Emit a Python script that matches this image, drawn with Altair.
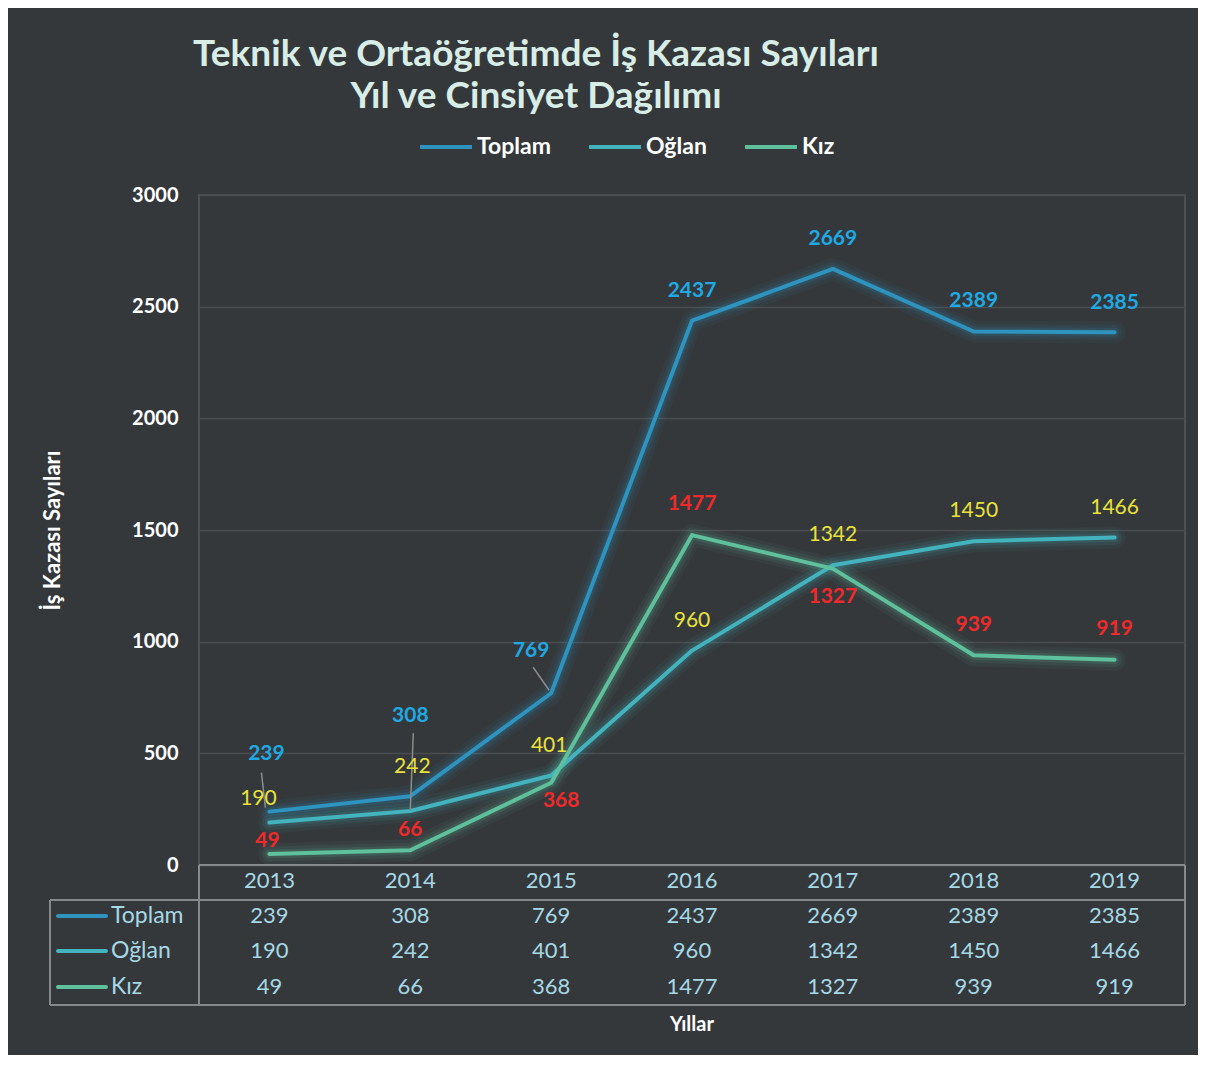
import altair as alt
import pandas as pd

# ---------------- data ----------------
years = [2013, 2014, 2015, 2016, 2017, 2018, 2019]
toplam = [239, 308, 769, 2437, 2669, 2389, 2385]
oglan = [190, 242, 401, 960, 1342, 1450, 1466]
kiz = [49, 66, 368, 1477, 1327, 939, 919]
series_names = ["Toplam", "Oğlan", "Kız"]
series_values = [toplam, oglan, kiz]
y_ticks = [0, 500, 1000, 1500, 2000, 2500, 3000]

# ---------------- styling / layout ----------------
FONT = "Lato"
BG = "#35383b"
line_colors = ["#2e93bf", "#43b4be", "#5fc09e"]
label_colors = ["#1fa9e3", "#e8e23a", "#f02a2a"]
label_weights = ["bold", "normal", "bold"]
table_color = "#a6d8e6"
border_color = "#86898b"
W, H = 986, 670

# pixel offsets of the value labels relative to their points
label_dx = [[-3, 0, -20, 0, 0, 0, 0], [-11, 2, -2, 0, 0, 0, 0], [-2, 0, 10, 0, 0, 0, 0]]
label_dy = [[-58, -80, -42, -30, -30, -30, -29],
            [-24, -44, -29, -30, -30, -30, -30],
            [-13, -20, 18, -31, 28, -30, -31]]
# leader lines: (series index, year index, xOff, yOff, x2Off, y2Off)
leaders = [(0, 0, -8, -39, -4, -4), (0, 1, 3, -63, 0, 14), (0, 2, -18, -26, -2, -3)]
row_y = [721, 756, 792]
header_y = 686

rows = []
for name, vals in zip(series_names, series_values):
    for yr, v in zip(years, vals):
        rows.append({"year": yr, "series": name, "value": v})
df = pd.DataFrame(rows)

x_enc = alt.X("year:O", scale=alt.Scale(type="point", padding=0.5), axis=None)
y_enc = alt.Y("value:Q", scale=alt.Scale(domain=[0, 3000], nice=False),
              axis=alt.Axis(values=y_ticks, format="d", grid=True, gridColor="#4a4d50", gridWidth=1.5,
                            ticks=False, domain=False, labelFont=FONT, labelFontSize=20,
                            labelFontWeight="bold", labelColor="#ffffff", labelPadding=21,
                            title="İş Kazası Sayıları", titleFont=FONT, titleFontSize=22,
                            titleFontWeight="bold", titleColor="#ffffff", titlePadding=67))
color_scale = alt.Scale(domain=series_names, range=line_colors)
legend = alt.Legend(orient="none", legendX=219, legendY=-76, direction="horizontal",
                    title=None, symbolType="stroke", symbolStrokeWidth=4,
                    symbolSize=2700, symbolOpacity=1, labelFont=FONT,
                    labelFontSize=23, labelFontWeight="bold", labelColor="#ffffff",
                    columnPadding=30, labelOffset=3)
color_enc = alt.Color("series:N", scale=color_scale, sort=series_names, legend=legend)

base = alt.Chart(df)
layers = []
# glow
for w, op in [(22, 0.06), (15, 0.09), (9, 0.14)]:
    layers.append(base.mark_line(strokeWidth=w, opacity=op, strokeCap="round", strokeJoin="round").encode(
        x=x_enc, y=y_enc, color=color_enc))
# main lines
layers.append(base.mark_line(strokeWidth=4, strokeCap="round", strokeJoin="round").encode(
    x=x_enc, y=y_enc, color=color_enc))

# leader lines
for si, yi, xo, yo, x2o, y2o in leaders:
    d = pd.DataFrame([{"year": years[yi], "value": series_values[si][yi]}])
    layers.append(alt.Chart(d).mark_rule(color="#8c8c8c", strokeWidth=1.5, xOffset=xo, yOffset=yo,
                                         x2Offset=x2o, y2Offset=y2o).encode(
        x=x_enc, y=y_enc, x2="year:O", y2="value:Q"))

# value labels
for si, name in enumerate(series_names):
    for yi, yr in enumerate(years):
        d = pd.DataFrame([{"year": yr, "value": series_values[si][yi]}])
        layers.append(alt.Chart(d).mark_text(font=FONT, fontSize=21, fontWeight=label_weights[si],
                                             color=label_colors[si], dx=label_dx[si][yi],
                                             dy=label_dy[si][yi], baseline="middle").encode(
            x=x_enc, y=y_enc, text="value:Q"))

# ---- data table below the plot ----
ydf = pd.DataFrame({"year": years})
layers.append(alt.Chart(ydf).mark_text(font=FONT, fontSize=22, color=table_color, baseline="middle").encode(
    x=x_enc, y=alt.value(header_y), text="year:O"))
for si, name in enumerate(series_names):
    tdf = pd.DataFrame({"year": years, "value": series_values[si]})
    layers.append(alt.Chart(tdf).mark_text(font=FONT, fontSize=22, color=table_color, baseline="middle").encode(
        x=x_enc, y=alt.value(row_y[si]), text="value:Q"))
    ldf = pd.DataFrame({"series": [name]})
    layers.append(alt.Chart(ldf).mark_text(font=FONT, fontSize=23, color=table_color, align="left",
                                           baseline="middle").encode(
        x=alt.value(-88), y=alt.value(row_y[si]), text="series:N"))
    layers.append(alt.Chart(ldf).mark_rule(strokeWidth=4, strokeCap="round", color=line_colors[si]).encode(
        x=alt.value(-141), x2=alt.value(-93), y=alt.value(row_y[si])))

# table borders
borders = [
    (0, W, 670, 670), (-149, W, 705, 705), (-149, W, 810, 810),
    (0, 0, 670, 810), (-149, -149, 705, 810), (W, W, 670, 810),
]
for x1, x2, y1, y2 in borders:
    layers.append(alt.Chart(ydf.head(1)).mark_rule(color=border_color, strokeWidth=2).encode(
        x=alt.value(x1), x2=alt.value(x2), y=alt.value(y1), y2=alt.value(y2)))

# axis title "Yıllar"
layers.append(alt.Chart(ydf.head(1)).mark_text(font=FONT, fontSize=20, fontWeight="bold", color="#ffffff",
                                               baseline="middle").encode(
    x=alt.value(W / 2), y=alt.value(830), text=alt.value("Yıllar")))

chart = alt.layer(*layers).properties(
    width=W, height=H,
    title=alt.TitleParams(text=["Teknik ve Ortaöğretimde İş Kazası Sayıları", "Yıl ve Cinsiyet Dağılımı"],
                          font=FONT, fontSize=37, fontWeight="bold", color="#d8ede6",
                          anchor="middle", dx=-156, offset=3, lineHeight=42),
    autosize=alt.AutoSizeParams(type="none"),
    padding={"left": 191, "top": 187, "right": 13, "bottom": 190},
).configure(background=BG).configure_view(stroke="#56595c", strokeWidth=1.5)

chart.save("out.html", embed_options={"renderer": "svg", "actions": False})
